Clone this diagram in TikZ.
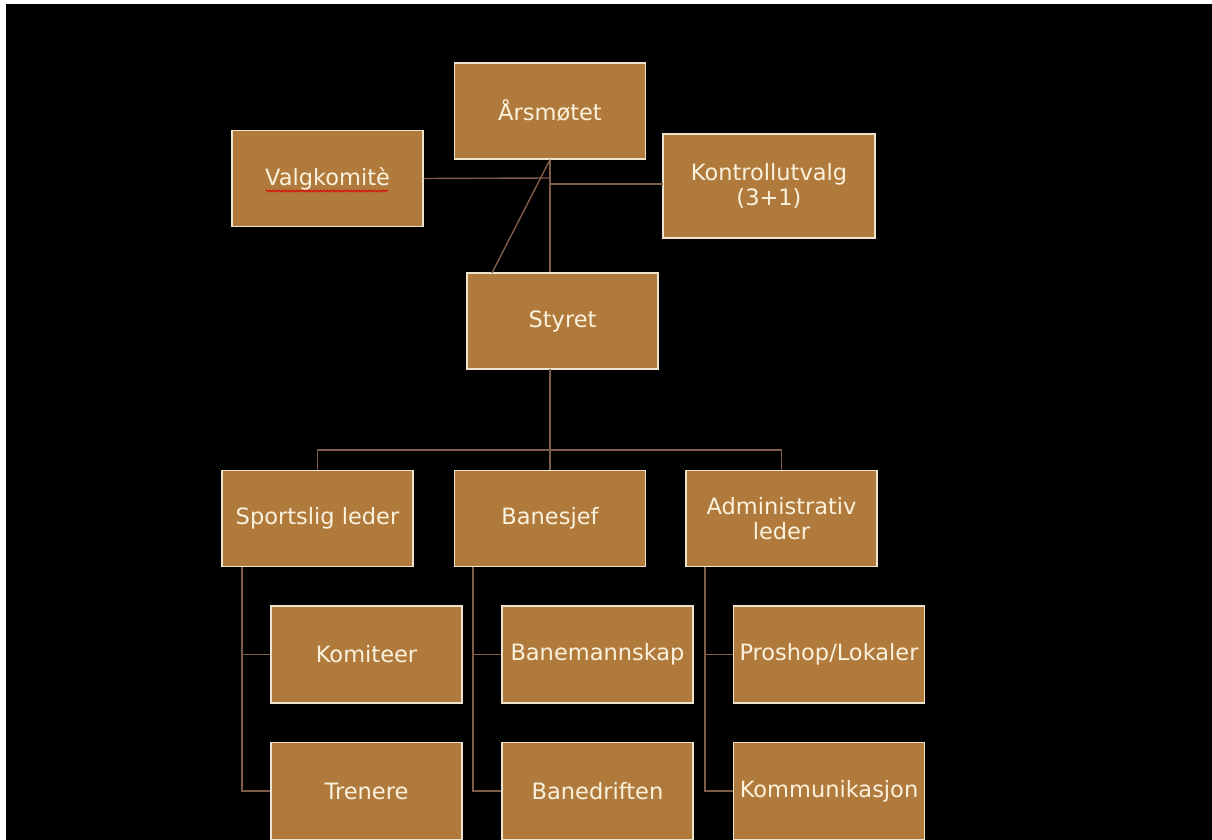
\documentclass[tikz,border=0pt]{standalone}
\usepackage{fontspec}
\setmainfont{DejaVu Sans}
\usetikzlibrary{decorations.pathmorphing}
\definecolor{boxfill}{HTML}{B07A3C}
\definecolor{boxedge}{HTML}{EDE3CF}
\definecolor{linkcol}{HTML}{7E5C48}
\definecolor{textcol}{HTML}{FBF2DE}
\tikzset{
  orgbox/.style={draw=boxedge, line width=1.3pt, fill=boxfill, text=textcol,
    minimum width=191pt, minimum height=96pt, inner sep=0pt, align=center,
    font=\fontsize{22.5}{24.5}\selectfont},
  link/.style={draw=linkcol, line width=1.4pt}
}
\begin{document}
\begin{tikzpicture}[x=1pt,y=-1pt]
\fill[white] (0,0) rectangle (1212,840);
\fill[black] (6,4) rectangle (1212,840);
\useasboundingbox (0,0) rectangle (1212,840);

% top
\node[orgbox] (ars) at (550,111) {Årsmøtet};
\node[orgbox] (valg) at (327.5,178.5) {Valgkomitè};
\node[orgbox, minimum width=212pt, minimum height=104pt] (kontr) at (769,186) {Kontrollutvalg\\(3+1)};
\node[orgbox] (styret) at (562.5,321) {Styret};

% spell-check squiggle under Valgkomitè
\draw[red!85!black, line width=0.8pt, decoration={snake, amplitude=0.9pt, segment length=3pt}, decorate]
  (266,191) -- (388,191);

% row 2
\node[orgbox] (sport) at (317.5,518.5) {Sportslig leder};
\node[orgbox] (banes) at (550,518.5) {Banesjef};
\node[orgbox] (admin) at (781.5,518.5) {Administrativ\\leder};

% row 3
\node[orgbox, minimum height=97pt] (komit) at (366.5,654.5) {Komiteer};
\node[orgbox, minimum height=97pt] (tren) at (366.5,791) {Trenere};
\node[orgbox, minimum height=97pt] (banem) at (597.5,654.5) {Banemannskap};
\node[orgbox, minimum height=97pt] (baned) at (597.5,791) {Banedriften};
\node[orgbox, minimum height=97pt] (prosh) at (829,654.5) {Proshop/Lokaler};
\node[orgbox, minimum height=97pt] (kommu) at (829,791) {Kommunikasjon};

% coordinates
\coordinate (diagend) at (492,273);
\coordinate (valgj) at (550,178);
\coordinate (kontrj) at (550,184);
\coordinate (kontrin) at (663,184);
\coordinate (stybot) at (550,369);
\coordinate (bar) at (550,450);

% links top
\draw[link] (ars.south) -- (ars.south |- styret.north);
\draw[link] (ars.south) -- (diagend);
\draw[link] (valg.east) -- (valgj);
\draw[link] (kontrj) -- (kontrin);

% links to row 2
\draw[link] (stybot) -- (bar);
\draw[link] (sport.north) -- (sport.north |- bar) -- (admin.north |- bar) -- (admin.north);
\draw[link] (bar) -- (banes.north);

% links to row 3
\coordinate (sx) at (242,567);
\coordinate (bx) at (473,567);
\coordinate (ax) at (705,567);
\draw[link] (sx) -- (sx |- tren.west) -- (tren.west);
\draw[link] (sx |- komit.west) -- (komit.west);
\draw[link] (bx) -- (bx |- baned.west) -- (baned.west);
\draw[link] (bx |- banem.west) -- (banem.west);
\draw[link] (ax) -- (ax |- kommu.west) -- (kommu.west);
\draw[link] (ax |- prosh.west) -- (prosh.west);
\end{tikzpicture}
\end{document}
